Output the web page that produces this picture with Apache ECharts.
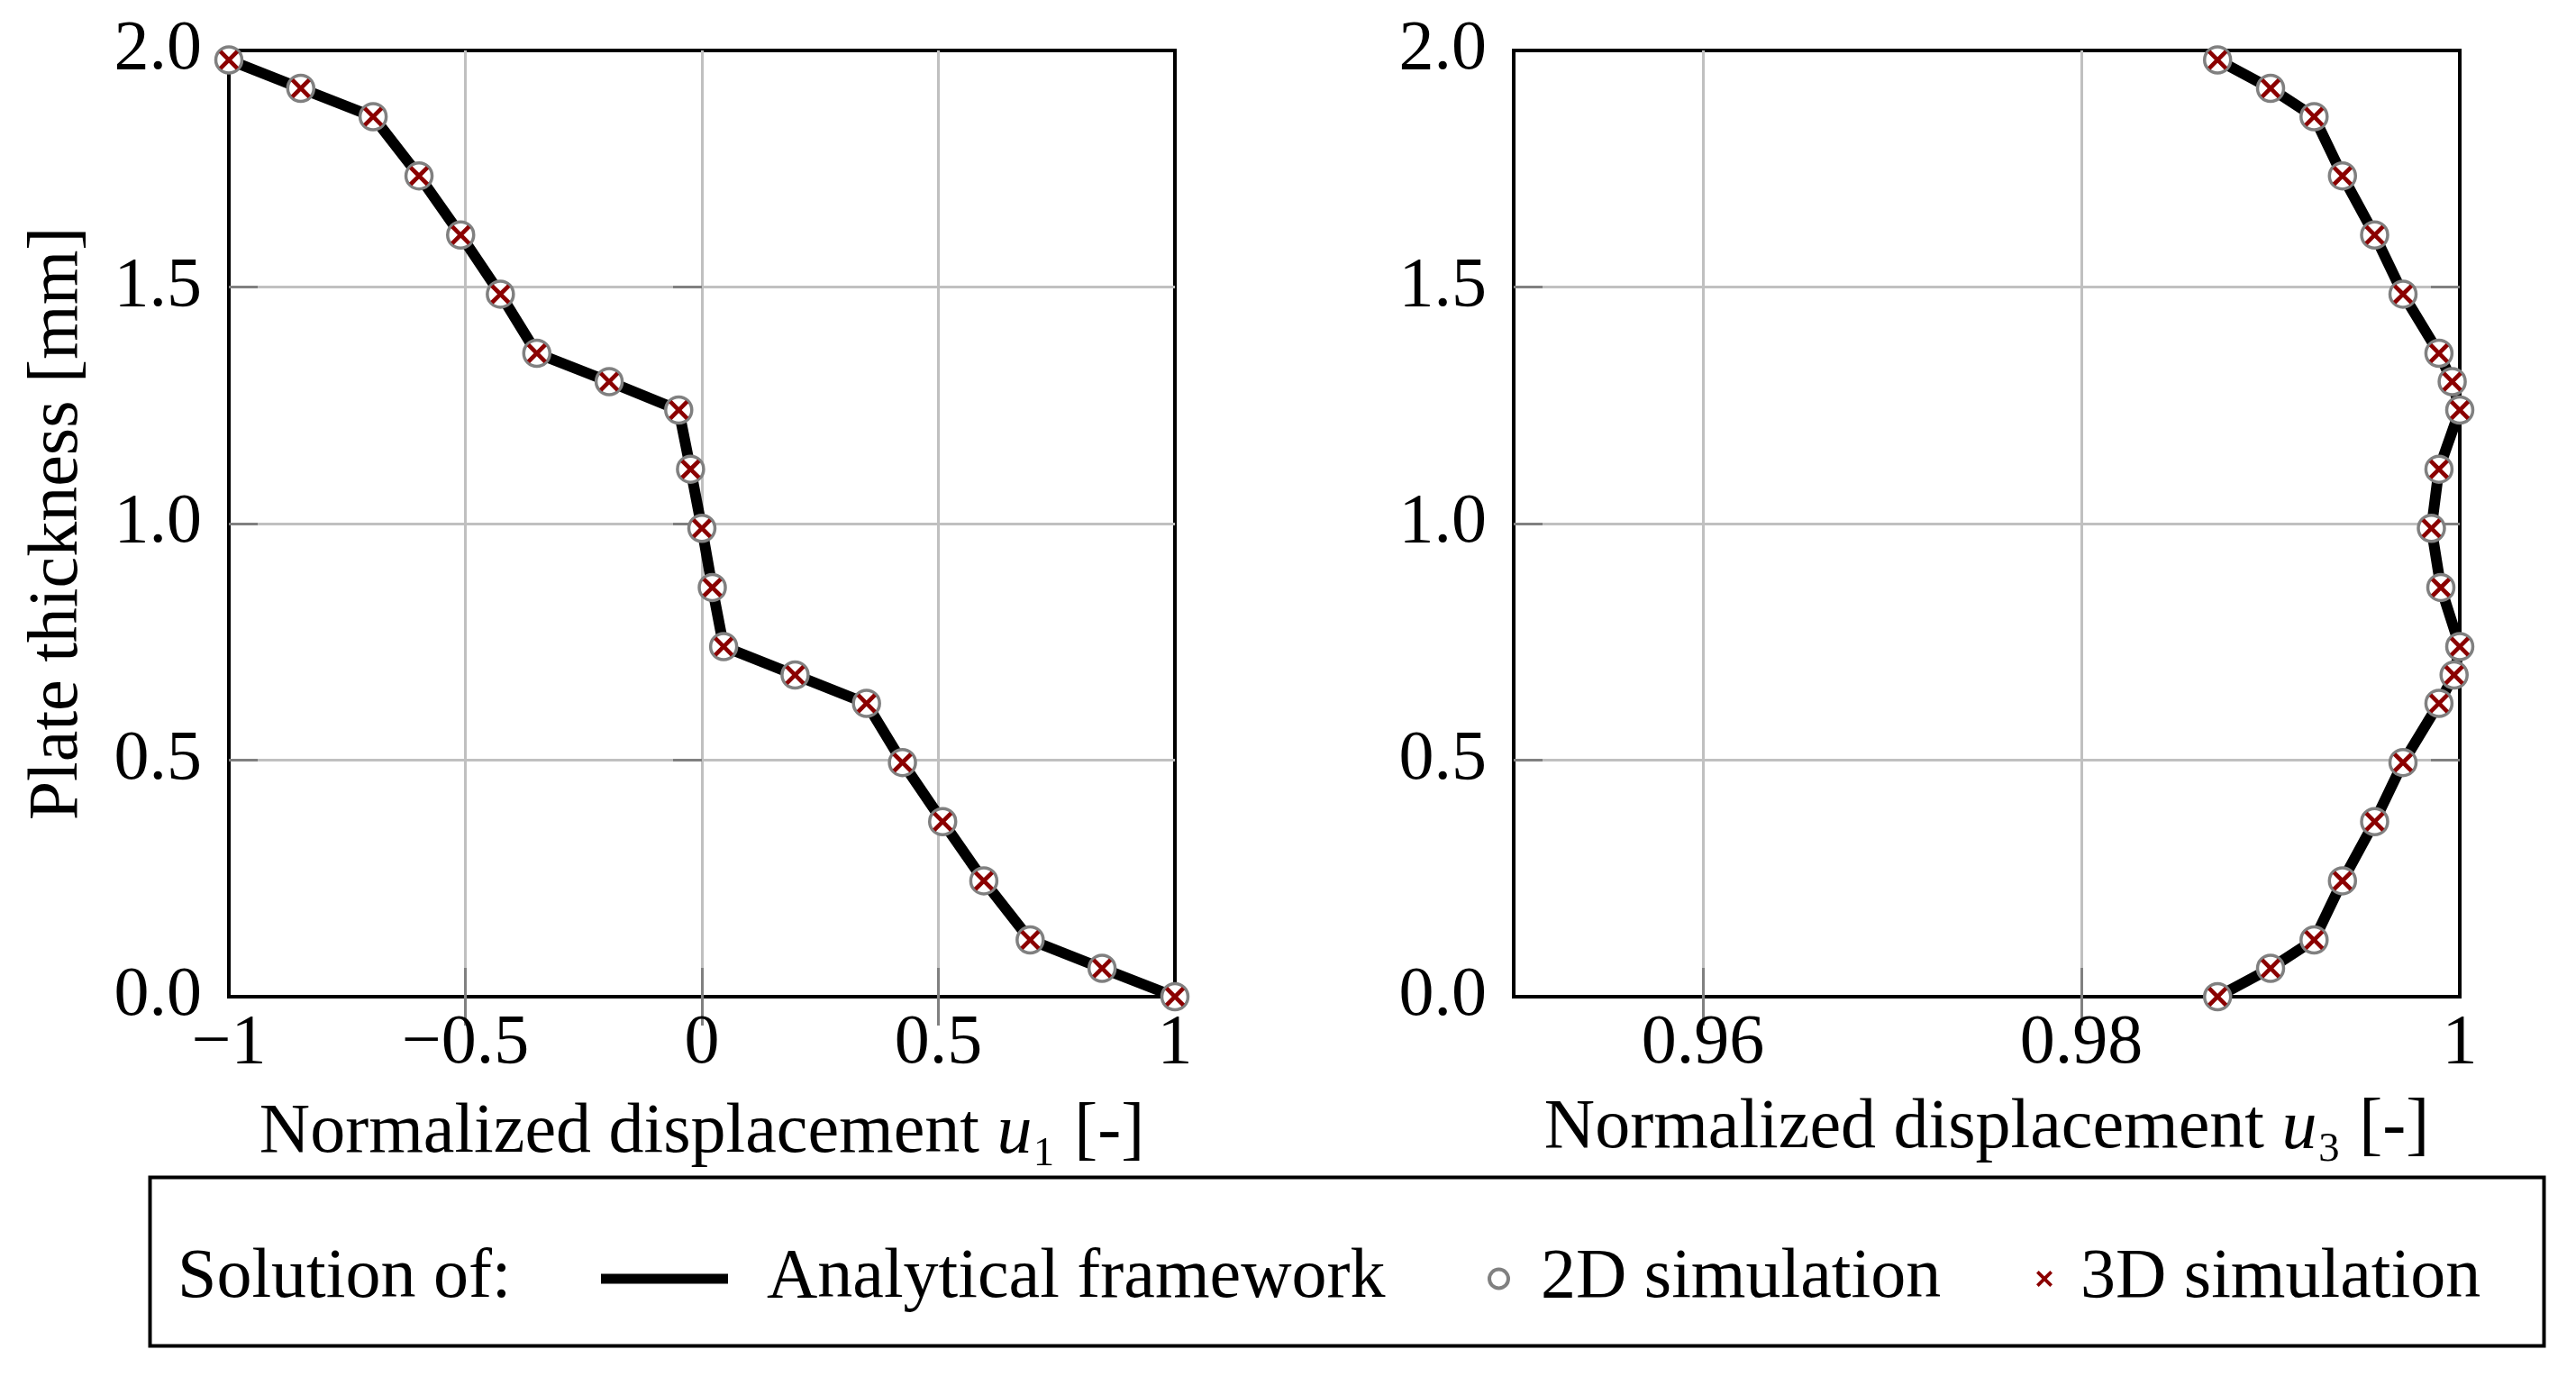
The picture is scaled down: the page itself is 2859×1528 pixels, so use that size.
<!DOCTYPE html>
<html>
<head>
<meta charset="utf-8">
<script src="https://cdn.jsdelivr.net/npm/echarts@6.0.0/dist/echarts.min.js"></script>
<style>
  html, body { margin: 0; padding: 0; background: #fff; }
  #main { width: 2859px; height: 1528px; }
</style>
</head>
<body>
<div id="main"></div>
<script>
// plate thickness positions [mm], bottom -> top
const thickness = [0, 0.06, 0.12, 0.245, 0.37, 0.495, 0.62, 0.68, 0.74, 0.865, 0.99,
                   1.115, 1.24, 1.30, 1.36, 1.485, 1.61, 1.735, 1.86, 1.92, 1.98];
// normalized displacement u1 (left plot)
const u1 = [1, 0.846, 0.694, 0.596, 0.509, 0.424, 0.348, 0.197, 0.046, 0.022, 0,
            -0.024, -0.049, -0.196, -0.349, -0.426, -0.510, -0.598, -0.695, -0.848, -1];
// normalized displacement u3 (right plot)
const u3 = [0.9872, 0.99, 0.9923, 0.9938, 0.9955, 0.997, 0.9989, 0.9997, 1.0, 0.999, 0.9985,
            0.9989, 1.0, 0.9996, 0.9989, 0.997, 0.9955, 0.9938, 0.9923, 0.99, 0.9872];
// tick values
const u1Ticks = [-1, -0.5, 0, 0.5, 1];
const u3Ticks = [0.96, 0.98, 1];
const yTicks = [0, 0.5, 1, 1.5, 2];
const legendNames = ['Analytical framework', '2D simulation', '3D simulation'];

const FONT = 'Liberation Serif';
const FS = 78;
// pgfplots style "x" mark
const XPATH = 'path://M0,1.5L1.5,0L5,3.5L8.5,0L10,1.5L6.5,5L10,8.5L8.5,10L5,6.5L1.5,10L0,8.5L3.5,5Z';

function pairs(xs) {
    return xs.map(function (x, i) { return [x, thickness[i]]; });
}
// ticks / grid lines only inside the frame (ends would paint over the black border)
function inner(ticks, min, max) {
    return ticks.filter(function (v) { return v > min && v < max; });
}

const txt = { color: '#000', fontFamily: FONT, fontSize: FS };
const grid = { show: true, lineStyle: { color: '#c0c0c0', width: 3 } };
function tick(vals) {
    return { inside: true, length: 32, customValues: vals, lineStyle: { color: '#808080', width: 3 } };
}

function xName(sub) {
    return '{t|Normalized displacement }{i|u}{t|' + sub + ' [-]}';
}
const nameStyle = {
    color: '#000', fontFamily: FONT, fontSize: FS,
    rich: {
        t: { color: '#000', fontFamily: FONT, fontSize: FS },
        i: { color: '#000', fontFamily: FONT, fontSize: FS, fontStyle: 'italic' }
    }
};

// mirrored axes on top / right, ticks only
function mirror(kind, gridIndex, min, max, vals) {
    return {
        type: 'value', gridIndex: gridIndex, position: kind, min: min, max: max,
        axisLine: { show: false }, axisLabel: { show: false },
        splitLine: { show: false }, axisTick: tick(inner(vals, min, max))
    };
}

const yLabel = Object.assign({ margin: 30, customValues: yTicks,
    formatter: function (v) { return v.toFixed(1); } }, txt);

const option = {
    animation: false,
    backgroundColor: '#fff',
    grid: [
        { left: 254, top: 56, width: 1050, height: 1050, show: true, borderColor: '#000', borderWidth: 4 },
        { left: 1680, top: 56, width: 1050, height: 1050, show: true, borderColor: '#000', borderWidth: 4 }
    ],
    xAxis: [
        {
            type: 'value', gridIndex: 0, position: 'bottom', min: -1, max: 1,
            axisLine: { show: false, onZero: false }, axisTick: tick(inner(u1Ticks, -1, 1)), splitLine: grid,
            axisLabel: Object.assign({ margin: 14, customValues: u1Ticks, formatter: function (v) {
                return v === 0 ? '0' : String(v).replace('-', '\u2212');
            } }, txt),
            name: xName('\u2081'), nameLocation: 'middle', nameGap: 113, nameTextStyle: nameStyle
        },
        mirror('top', 0, -1, 1, u1Ticks),
        {
            type: 'value', gridIndex: 1, position: 'bottom', min: 0.95, max: 1,
            axisLine: { show: false, onZero: false }, axisTick: tick(inner(u3Ticks, 0.95, 1)), splitLine: grid,
            axisLabel: Object.assign({ margin: 14, customValues: u3Ticks }, txt),
            name: xName('\u2083'), nameLocation: 'middle', nameGap: 108, nameTextStyle: nameStyle
        },
        mirror('top', 1, 0.95, 1, u3Ticks)
    ],
    yAxis: [
        {
            type: 'value', gridIndex: 0, position: 'left', min: 0, max: 2,
            axisLine: { show: false, onZero: false }, axisTick: tick(inner(yTicks, 0, 2)), splitLine: grid,
            axisLabel: yLabel,
            name: 'Plate thickness [mm]', nameLocation: 'middle', nameRotate: 90, nameGap: 150,
            nameTextStyle: txt
        },
        mirror('right', 0, 0, 2, yTicks),
        {
            type: 'value', gridIndex: 1, position: 'left', min: 0, max: 2,
            axisLine: { show: false, onZero: false }, axisTick: tick(inner(yTicks, 0, 2)), splitLine: grid,
            axisLabel: yLabel
        },
        mirror('right', 1, 0, 2, yTicks)
    ],
    legend: [
        {
            data: [{ name: legendNames[0], icon: 'rect', itemStyle: { color: '#000', borderWidth: 0 } }],
            left: 667, top: 1380, itemWidth: 141, itemHeight: 11, padding: 0, selectedMode: false,
            textStyle: Object.assign({ padding: [0, 0, 0, 38] }, txt)
        },
        {
            data: [{ name: legendNames[1], icon: 'circle',
                itemStyle: { color: '#fff', borderColor: '#808080', borderWidth: 4 } }],
            left: 1651, top: 1380, itemWidth: 21, itemHeight: 21, padding: 0, selectedMode: false,
            textStyle: Object.assign({ padding: [0, 0, 0, 31] }, txt)
        },
        {
            data: [{ name: legendNames[2], icon: XPATH, itemStyle: { color: '#8b0000' } }],
            left: 2260, top: 1380, itemWidth: 18, itemHeight: 18, padding: 0, selectedMode: false,
            textStyle: Object.assign({ padding: [0, 0, 0, 26] }, txt)
        }
    ],
    graphic: [
        { type: 'rect', left: 164, top: 1304, silent: true,
          shape: { width: 2657, height: 187 }, style: { fill: 'none', stroke: '#000', lineWidth: 4 } },
        { type: 'text', left: 197, top: 1380, silent: true,
          style: { text: 'Solution of:', font: FS + 'px "' + FONT + '"', fill: '#000' } }
    ],
    series: []
};

// same three series in both panels
[[0, u1], [1, u3]].forEach(function (p) {
    const idx = p[0] * 2;
    const data = pairs(p[1]);
    option.series.push(
        { name: legendNames[0], type: 'line', xAxisIndex: idx, yAxisIndex: idx, data: data,
          symbol: 'none', color: '#000', lineStyle: { color: '#000', width: 12 }, clip: false, z: 2 },
        { name: legendNames[1], type: 'scatter', xAxisIndex: idx, yAxisIndex: idx, data: data,
          symbol: 'circle', symbolSize: 29, clip: false, z: 3,
          itemStyle: { color: '#fff', borderColor: '#808080', borderWidth: 3.5, opacity: 1 } },
        { name: legendNames[2], type: 'scatter', xAxisIndex: idx, yAxisIndex: idx, data: data,
          symbol: XPATH, symbolSize: 22, clip: false, z: 4,
          itemStyle: { color: '#8b0000', opacity: 1 } }
    );
});

var myChart = echarts.init(document.getElementById('main'));
myChart.setOption(option);
</script>
</body>
</html>
